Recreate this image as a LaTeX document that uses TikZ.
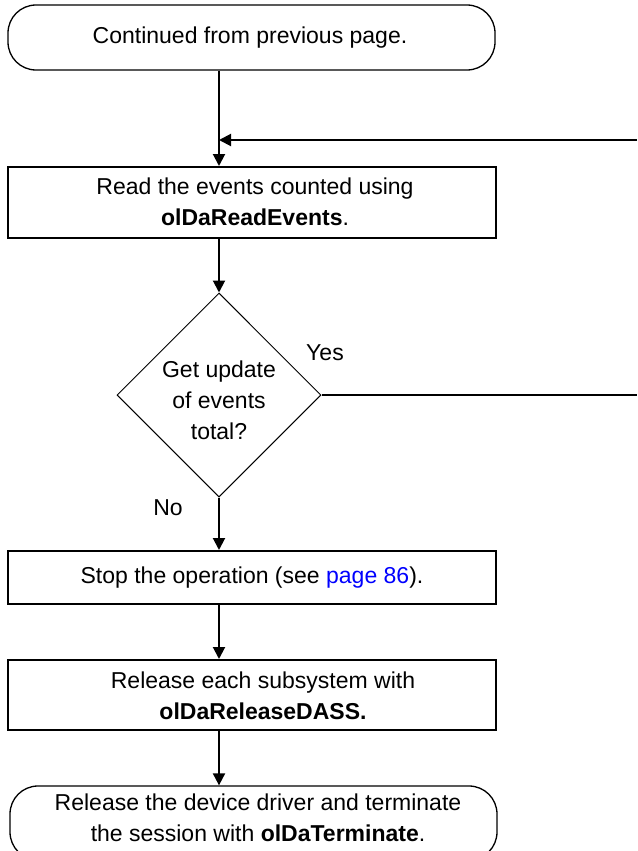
\documentclass[tikz,border=0pt]{standalone}
\usepackage{fontspec}
\setmainfont{Liberation Sans}
\usetikzlibrary{shapes.geometric,arrows.meta}
\definecolor{linkblue}{RGB}{0,0,255}
\begin{document}
\begin{tikzpicture}[x=1pt,y=-1pt,
  txt/.style={font=\fontsize{23}{31}\selectfont, align=center, inner sep=0pt},
  term/.style={draw, line width=1.3pt, rounded corners=28pt, inner sep=0pt},
  procbox/.style={draw, line width=2pt, inner sep=0pt, minimum width=488pt},
  decision/.style={draw, diamond, line width=1pt, inner sep=0pt, minimum width=204pt, minimum height=204pt},
  conn/.style={line width=2pt},
  arr/.style={line width=2pt, -{Triangle[length=12pt,width=12pt]}}]
\useasboundingbox (0,0) rectangle (637,851);
% nodes
\node[term, minimum width=487pt, minimum height=65pt] (top) at (251.5,37.5) {};
\node[txt] (toptxt) at (250,37.5) {Continued from previous page.};
\node[procbox, minimum height=71pt] (box1) at (252,202.5) {};
\node[txt] (box1txt) at (255,202) {Read the events counted using\\\textbf{olDaReadEvents}.};
\node[decision] (dec) at (219,395) {};
\node[txt] (dectxt) at (219,400) {Get update\\of events\\total?};
\node[procbox, minimum height=53pt] (box2) at (252,577.5) {};
\node[txt] (box2txt) at (252,578) {Stop the operation (see \textcolor{linkblue}{page 86}).};
\node[procbox, minimum height=70pt] (box3) at (252,695) {};
\node[txt] (box3txt) at (263,695.5) {Release each subsystem with\\\textbf{olDaReleaseDASS.}};
\node[term, minimum width=487pt, minimum height=74pt] (end) at (253.5,823) {};
\node[txt] (endtxt) at (258,817.5) {Release the device driver and terminate\\the session with \textbf{olDaTerminate}.};
\node[txt] (yes) at (325,353) {Yes};
\node[txt] (no) at (168,508) {No};
% coordinates
\coordinate (join) at (219,140);
\coordinate (loopR) at (637,140);
\coordinate (yesR) at (637,395);
% connectors
\draw[arr] (top.south -| dec.center) -- (box1.north -| dec.center);
\draw[arr] (loopR) -- (join);
\draw[arr] (box1.south -| dec.center) -- (dec.north);
\draw[conn] (dec.east) -- (yesR);
\draw[arr] (dec.south) -- (box2.north -| dec.center);
\draw[arr] (box2.south -| dec.center) -- (box3.north -| dec.center);
\draw[arr] (box3.south -| dec.center) -- (end.north -| dec.center);
\end{tikzpicture}
\end{document}
